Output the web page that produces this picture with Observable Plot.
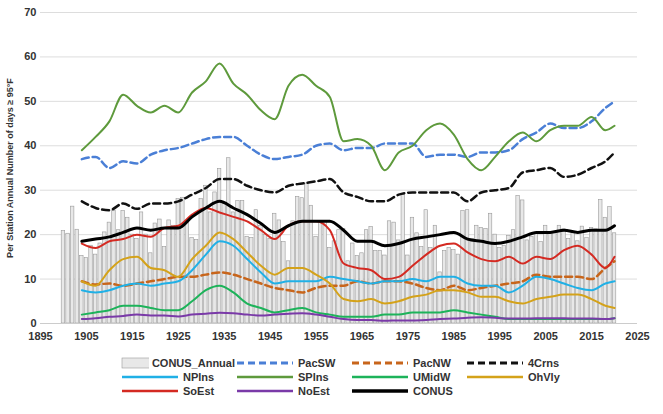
<!DOCTYPE html>
<html><head><meta charset="utf-8">
<script src="https://cdn.jsdelivr.net/npm/d3@7"></script>
<script src="https://cdn.jsdelivr.net/npm/@observablehq/plot@0.6"></script>
<style>
body{margin:0;background:#fff;font-family:"Liberation Sans",Arial,sans-serif;}
#legend{display:grid;grid-template-columns:repeat(4,115px);margin:12px 0 0 120px;font-size:11px;font-weight:bold;color:#333;row-gap:2px}
#legend div{display:flex;align-items:center;gap:3px}
</style></head><body>
<div id="chart"></div><div id="legend"></div>
<script>
const barStart = 1900;
const barValues = [20.8,20.2,26.3,21.1,15.2,14.7,17.5,15.5,18,20.5,22.7,25.3,21,25.3,23.8,20,19,25,20,15.8,22.5,23.4,17.2,23.2,22,28,28.3,23,19.2,18.8,28,31,25,29.5,34.8,27,37.2,25,27.6,27.6,19.5,19.2,25.5,22,20,19,24.7,23.2,18.3,14,23,28.5,28.2,31.5,26.5,19.5,23,22.8,17,18.5,21,21.3,14,18,15.2,15.8,21,21.7,16.3,16.3,15.3,23,22.7,18.7,29,15.3,23.8,20.3,17.2,25.5,17,22,11.5,16.3,17,16.5,15.5,25.3,25.5,19,22,21.5,21.3,24.7,20,17,17.5,19.7,21,28.7,27.7,18.7,19.5,20.3,18.3,22,20.3,20.5,22,21.2,19,20.5,18.5,21.8,19.3,21.5,21.2,27.8,23.8,26.2,20.3];
const years = [1904,1907,1910,1913,1916,1919,1922,1925,1928,1931,1934,1937,1940,1943,1946,1949,1952,1955,1958,1961,1964,1967,1970,1973,1976,1979,1982,1985,1988,1991,1994,1997,2000,2003,2006,2009,2012,2015,2018,2020];
const PacSW=[37,37.5,35,36.5,36,38,39,39.5,40.5,41.5,42,42,40,38,37,37.5,38,40,40.5,39,39.5,39.5,40.5,40.5,40.5,37.5,38,38,37.5,38.5,38.5,39,41.5,43,45,44,44,45.5,48.5,50];
const PacNW=[9.5,8.8,9,8.5,9,9.5,10,10.5,10.5,11,11.5,11,10,9,8,7.5,7,8,8.5,8.5,9.5,9,9.5,9.5,9,8,7.5,8.5,7.5,8,8.5,9,9.5,11,10.5,10.5,10.5,10,12.5,14];
const Crns4=[27.5,26,25.5,27,25.8,27,27,27.5,29,30.5,32.5,32.5,31,30,29.5,31,31.5,32,32.5,29.5,28.5,27.5,27.5,29,29.5,29.5,29.5,29.5,27.5,29.5,30,30.5,34,34.5,35,33,33.5,35,36.5,38.5];
const NPlns=[7.5,7,7.5,8.5,9,8.5,9,9.5,12,15.5,18.5,17.5,14.5,11.5,9,9.5,9.5,9.5,10.5,10,9.5,9,9.5,9.5,10,9.5,10.5,10.5,9,8.5,8.5,7,8.5,10.5,10,9,8,7.5,9,9.5];
const SPlns=[39,42,45.5,51.5,49,47.5,49,47.5,52,54.5,58.5,54,51.5,48,46,53.5,56,53.5,51,41,41.5,40,34.5,38.5,40,43.5,45,42.5,37,34.5,37.5,41,43,41,43.5,44.5,44.5,46.5,43.5,44.5];
const UMidW=[2,2.5,3,4,4,3.5,3,3,5,7.5,8.5,7,4.5,3.5,2.5,3,3.5,2.5,2,1.5,1.5,1.5,2,2,2.5,2.5,2.5,3,2.5,2,1.5,1,1,1,1,1,1,1,1,1.2];
const OhVly=[9.5,8.5,12,14.5,15,12.5,12,10.5,14.5,17.5,20.5,19,16,13,11,12.5,12.5,11,9,5.5,5,5.5,4.5,5,6,6.5,7.5,7.5,7,6,6,5,4.5,5.5,6,6.5,6.5,5.5,4,3.5];
const SoEst=[18,17,18.5,19,20,19.5,21.5,22,24.5,26,25,24,23,21,19,22,23,23,21,13.5,12.5,12,10,10.5,13,15.5,17.5,18,16,14.5,14,15,13.5,15,14.5,16.5,17.5,15.5,12.5,15];
const NoEst=[1,1.2,1.5,1.7,2,1.8,1.8,1.6,2,2.2,2.4,2.3,2,1.8,2,2.2,2.3,2,1.5,1,0.8,0.8,0.6,0.7,0.7,0.8,1,1.1,1.3,1.4,1.3,1.1,1.1,1.2,1.2,1.2,1.1,1.1,1,1.2];
const CONUS=[18.5,19,19.5,20.5,21.5,21,21.5,21.5,24,26,27.5,26,24.5,22.5,20.5,22,23,23,23,21,18.5,18.5,17.5,18,19,19.5,20,20.5,19,18.5,18,18.5,19.5,20.5,20.5,21,20.5,21,21,22];

const series=[
 {name:"PacSW",vals:PacSW,color:"#4a7fd6",dash:"7,4",w:2.5},
 {name:"PacNW",vals:PacNW,color:"#c8651b",dash:"7,4",w:2.5},
 {name:"4Crns",vals:Crns4,color:"#111",dash:"7,4",w:2.5},
 {name:"NPlns",vals:NPlns,color:"#20b0e6",dash:null,w:2},
 {name:"SPlns",vals:SPlns,color:"#5e9a3c",dash:null,w:2},
 {name:"UMidW",vals:UMidW,color:"#1db35a",dash:null,w:2},
 {name:"OhVly",vals:OhVly,color:"#d4a21a",dash:null,w:2},
 {name:"SoEst",vals:SoEst,color:"#d42a22",dash:null,w:2},
 {name:"NoEst",vals:NoEst,color:"#7a3aa8",dash:null,w:2},
 {name:"CONUS",vals:CONUS,color:"#000",dash:null,w:3}
];
const bars = barValues.map((v,i)=>({year:barStart+i,v}));
const marks=[
 Plot.gridY({ticks:d3.range(10,71,10),stroke:"#ddd",strokeOpacity:1}),
 Plot.rectY(bars,{x1:d=>d.year-0.38,x2:d=>d.year+0.38,y:"v",fill:"#e8e8e8",stroke:"#9a9a9a",strokeWidth:0.6}),
 Plot.ruleY([0],{stroke:"#ccc"})
];
for(const s of series){
  marks.push(Plot.line(years.map((y,i)=>({y,v:s.vals[i]})),{x:"y",y:"v",stroke:s.color,strokeWidth:s.w,strokeDasharray:s.dash,curve:"monotone-x"}));
}
const chart=Plot.plot({
  width:663,height:345,marginLeft:40,marginRight:26,marginTop:12,marginBottom:22,
  style:{fontSize:"11px",fontWeight:"bold",color:"#333",fontFamily:"Liberation Sans, Arial, sans-serif"},
  x:{domain:[1895,2025],ticks:d3.range(1895,2026,10),tickFormat:d=>String(d),tickSize:0,label:null},
  y:{domain:[0,70],ticks:d3.range(0,71,10),tickSize:0,label:null,tickPadding:4},
  marks:[...marks,
    Plot.text(["Per Station Annual Number of days ≥ 95°F"],{frameAnchor:"left",textAnchor:"middle",dx:-30,dy:0,rotate:-90,fontSize:9,fontWeight:"bold"})]
});
document.getElementById("chart").append(chart);
const leg=document.getElementById("legend");
const items=[{name:"CONUS_Annual",bar:true},...series];
const order=["CONUS_Annual","PacSW","PacNW","4Crns","NPlns","SPlns","UMidW","OhVly","SoEst","NoEst","CONUS"];
for(const n of order){
  const it=items.find(d=>d.name===n);
  const div=document.createElement("div");
  const sw=it.bar?`<svg width="60" height="12"><rect x="2" y="1" width="56" height="10" fill="#e8e8e8" stroke="#999" stroke-width="0.6"/></svg>`
   :`<svg width="60" height="12"><line x1="2" x2="58" y1="6" y2="6" stroke="${it.color}" stroke-width="${it.w+0.5}" ${it.dash?`stroke-dasharray="${it.dash}"`:""}/></svg>`;
  div.innerHTML=sw+"<span>"+n+"</span>";
  leg.append(div);
}
</script></body></html>
